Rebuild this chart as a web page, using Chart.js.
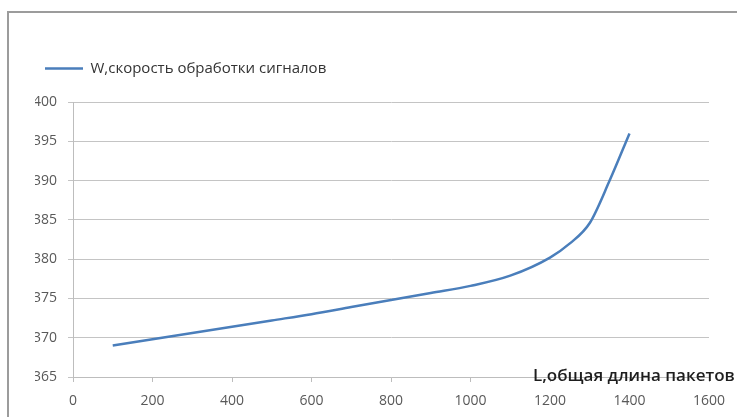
<!DOCTYPE html>
<html>
<head>
<meta charset="utf-8">
<script src="https://cdn.jsdelivr.net/npm/chart.js@4/dist/chart.umd.min.js"></script>
<style>
  html, body { margin: 0; padding: 0; background: #fff; overflow: hidden; }
  #chart { display: block; }
</style>
</head>
<body>
<canvas id="chart" width="737" height="417"></canvas>
<script>
// L, total packet length (x) and W, signal processing speed (y)
const lengths = [100, 200, 300, 400, 500, 600, 700, 800, 900, 1000, 1100, 1200, 1250, 1300, 1350, 1400];
const speeds = [369.0, 369.8, 370.6, 371.4, 372.2, 373.0, 373.9, 374.8, 375.7, 376.6, 377.9, 380.2, 382.0, 384.6, 390.0, 396.0];
const seriesName = 'W,скорость обработки сигналов';
const xTitle = 'L,общая длина пакетов';
const xTicks = [0, 200, 400, 600, 800, 1000, 1200, 1400, 1600];
const yTicks = [365, 370, 375, 380, 385, 390, 395, 400];

const FONT = '"Open Sans", "DejaVu Sans", sans-serif';

// push the plot down a bit below the legend
const legendGap = {
    id: 'legendGap',
    beforeInit(chart) {
        const fit = chart.legend.fit;
        chart.legend.fit = function() {
            fit.bind(chart.legend)();
            this.height += 16;
        };
    }
};

// grey frame of the chart object, only its top and left edges are in the crop
const frame = {
    id: 'frame',
    beforeDraw(chart) {
        const ctx = chart.ctx;
        ctx.save();
        ctx.strokeStyle = '#9c9c9c';
        ctx.lineWidth = 2;
        ctx.beginPath();
        ctx.moveTo(8, chart.height);
        ctx.lineTo(8, 12);
        ctx.lineTo(chart.width, 12);
        ctx.stroke();
        ctx.restore();
    }
};

// axis title sits on the right end of the x axis, like Excel puts it
const xAxisTitle = {
    id: 'xAxisTitle',
    afterDraw(chart) {
        const ctx = chart.ctx;
        const area = chart.chartArea;
        ctx.save();
        ctx.font = '600 17px ' + FONT;
        ctx.fillStyle = '#1e1e1e';
        ctx.textBaseline = 'middle';
        ctx.textAlign = 'left';
        ctx.fillText(xTitle, area.right - 176, area.bottom - 1);
        ctx.restore();
    }
};

const points = lengths.map((l, i) => ({ x: l, y: speeds[i] }));

new Chart(document.getElementById('chart').getContext('2d'), {
    type: 'line',
    data: {
        datasets: [{
            label: seriesName,
            data: points,
            borderColor: '#4a7ebb',
            backgroundColor: '#4a7ebb',
            borderWidth: 2.5,
            pointRadius: 0,
            cubicInterpolationMode: 'monotone',
            fill: false
        }]
    },
    options: {
        responsive: false,
        animation: false,
        layout: { padding: { left: 35, top: 51, right: 28, bottom: 0 } },
        plugins: {
            legend: {
                position: 'top',
                align: 'start',
                labels: {
                    usePointStyle: true,
                    pointStyle: 'line',
                    pointStyleWidth: 38,
                    boxWidth: 38,
                    padding: 10,
                    color: '#333333',
                    font: { family: FONT, size: 15 }
                }
            },
            tooltip: { enabled: false }
        },
        scales: {
            x: {
                type: 'linear',
                min: 0,
                max: 1600,
                afterBuildTicks(scale) { scale.ticks = xTicks.map(v => ({ value: v })); },
                afterFit(scale) { scale.height = 40; },
                ticks: {
                    color: '#595959', padding: 11, font: { family: FONT, size: 14 },
                    callback: v => String(v)
                },
                grid: { drawOnChartArea: false, drawTicks: true, tickLength: 5, color: '#bdbdbd' },
                border: { color: '#bdbdbd' }
            },
            y: {
                min: 365,
                max: 400,
                afterBuildTicks(scale) { scale.ticks = yTicks.map(v => ({ value: v })); },
                afterFit(scale) { scale.width = 38; },
                ticks: {
                    color: '#595959', padding: 11, font: { family: FONT, size: 14 },
                    callback: v => String(v)
                },
                grid: { color: '#c4c4c4', tickLength: 5 },
                border: { color: '#bdbdbd' }
            }
        }
    },
    plugins: [frame, legendGap, xAxisTitle]
});
</script>
</body>
</html>
